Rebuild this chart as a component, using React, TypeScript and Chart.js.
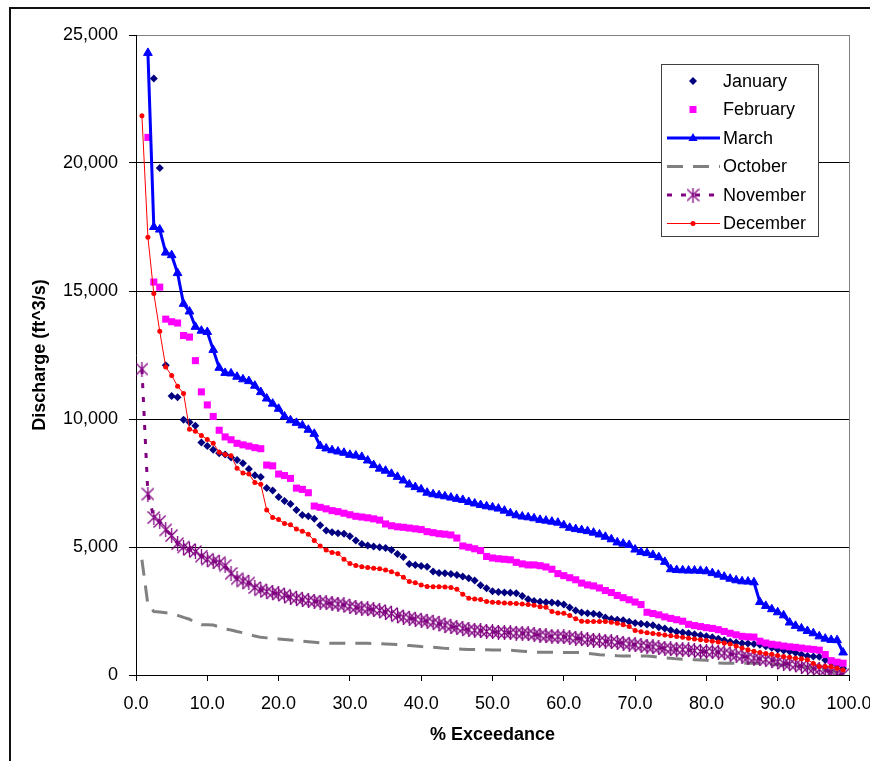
import React, { useEffect, useRef } from 'react';
import { Chart, registerables } from 'chart.js';

Chart.register(...registerables);

// % exceedance (plotting positions of the ranked flows)
const EXCEEDANCE = [
  0.83, 1.67, 2.5, 3.33, 4.17, 5, 5.83, 6.67, 7.5, 8.33,
  9.17, 10, 10.83, 11.67, 12.5, 13.33, 14.17, 15, 15.83, 16.67,
  17.5, 18.33, 19.17, 20, 20.83, 21.67, 22.5, 23.33, 24.17, 25,
  25.83, 26.67, 27.5, 28.33, 29.17, 30, 30.83, 31.67, 32.5, 33.33,
  34.17, 35, 35.83, 36.67, 37.5, 38.33, 39.17, 40, 40.83, 41.67,
  42.5, 43.33, 44.17, 45, 45.83, 46.67, 47.5, 48.33, 49.17, 50,
  50.83, 51.67, 52.5, 53.33, 54.17, 55, 55.83, 56.67, 57.5, 58.33,
  59.17, 60, 60.83, 61.67, 62.5, 63.33, 64.17, 65, 65.83, 66.67,
  67.5, 68.33, 69.17, 70, 70.83, 71.67, 72.5, 73.33, 74.17, 75,
  75.83, 76.67, 77.5, 78.33, 79.17, 80, 80.83, 81.67, 82.5, 83.33,
  84.17, 85, 85.83, 86.67, 87.5, 88.33, 89.17, 90, 90.83, 91.67,
  92.5, 93.33, 94.17, 95, 95.83, 96.67, 97.5, 98.33, 99.17,
];

const JANUARY = [
  null, null, 23300, 19800, 12100, 10900, 10850, 9970, 9870, 9740,
  9080, 8950, 8800, 8660, 8610, 8500, 8400, 8270, 8050, 7800,
  7730, 7300, 7210, 6950, 6800, 6680, 6450, 6250, 6200, 6100,
  5850, 5640, 5580, 5540, 5520, 5420, 5250, 5120, 5060, 5020,
  4990, 4960, 4880, 4730, 4610, 4340, 4300, 4260, 4230, 4040,
  3980, 3970, 3950, 3910, 3850, 3780, 3690, 3510, 3390, 3270,
  3240, 3220, 3210, 3190, 3090, 2960, 2890, 2860, 2840, 2830,
  2800, 2750, 2640, 2520, 2440, 2410, 2390, 2350, 2250, 2190,
  2160, 2140, 2080, 2030, 2000, 1970, 1940, 1870, 1820, 1750,
  1690, 1660, 1630, 1590, 1550, 1510, 1470, 1420, 1360, 1300,
  1270, 1240, 1230, 1210, 1180, 1120, 1060, 1000, 960, 920,
  870, 800, 740, 720, 710, 590, 480, 380, 260,
];

const FEBRUARY = [
  null, 21000, 15350, 15150, 13900, 13800, 13750, 13260, 13200, 12280,
  11060, 10550, 10100, 9560, 9300, 9190, 9050, 8990, 8940, 8880,
  8840, 8200, 8170, 7850, 7790, 7680, 7300, 7250, 7120, 6600,
  6550, 6490, 6420, 6380, 6320, 6260, 6200, 6170, 6140, 6100,
  6050, 5900, 5830, 5790, 5770, 5740, 5710, 5680, 5600, 5560,
  5520, 5500, 5470, 5350, 5040, 4990, 4930, 4860, 4630, 4570,
  4540, 4520, 4500, 4400, 4340, 4300, 4300, 4270, 4220, 4130,
  3960, 3880, 3800, 3720, 3590, 3520, 3480, 3400, 3300, 3220,
  3110, 3020, 2940, 2850, 2750, 2450, 2400, 2350, 2270, 2210,
  2160, 2100, 1980, 1930, 1890, 1850, 1820, 1770, 1700, 1630,
  1570, 1510, 1490, 1480, 1320, 1250, 1200, 1170, 1130, 1100,
  1080, 1050, 1020, 1000, 970, 800, 560, 500, 460,
];

const MARCH = [
  null, 24300, 17500, 17400, 16500, 16400, 15700, 14500, 14200, 13600,
  13450, 13400, 12700, 12000, 11800, 11780, 11650, 11550, 11480, 11300,
  11050, 10800, 10600, 10400, 10100, 9950, 9850, 9750, 9580, 9420,
  8950, 8850, 8780, 8730, 8680, 8600, 8570, 8520, 8380, 8200,
  8060, 7980, 7860, 7740, 7600, 7440, 7340, 7250, 7120, 7060,
  7020, 6980, 6930, 6880, 6840, 6760, 6700, 6640, 6590, 6550,
  6500, 6420, 6320, 6240, 6190, 6160, 6120, 6060, 6030, 5990,
  5950, 5850, 5750, 5700, 5660, 5620, 5560, 5490, 5400, 5300,
  5180, 5130, 5080, 4900, 4800, 4760, 4690, 4600, 4420, 4130,
  4100, 4090, 4080, 4080, 4070, 4050, 3980, 3920, 3840, 3760,
  3700, 3660, 3650, 3620, 2850, 2700, 2570, 2450, 2330, 2050,
  1920, 1820, 1720, 1630, 1510, 1420, 1370, 1360, 880,
];

const OCTOBER = [
  4500, 2750, 2480, 2460, 2430, 2400, 2330, 2250, 2180, 2050,
  1960, 1960, 1950, 1880, 1800, 1760, 1700, 1650, 1600, 1520,
  1470, 1450, 1420, 1410, 1390, 1370, 1350, 1320, 1300, 1280,
  1260, 1250, 1240, 1240, 1240, 1240, 1240, 1240, 1240, 1230,
  1220, 1210, 1200, 1190, 1170, 1150, 1130, 1110, 1100, 1080,
  1060, 1040, 1030, 1020, 1010, 1000, 1000, 990, 990, 980,
  980, 980, 970, 950, 930, 910, 890, 890, 890, 890,
  890, 880, 880, 880, 870, 850, 820, 790, 780, 770,
  750, 740, 740, 740, 740, 740, 720, 700, 670, 650,
  630, 620, 610, 600, 590, 580, 520, 470, 460, 460,
  460, 460, 460, 460, 450, 430, 410, 400, 390, 370,
  350, 330, 300, 270, 250, 200, 150, 100, 70,
];

const NOVEMBER = [
  11950, 7070, 6150, 6000, 5670, 5450, 5130, 5000, 4900, 4820,
  4640, 4520, 4450, 4390, 4270, 3960, 3760, 3670, 3600, 3420,
  3330, 3260, 3210, 3170, 3120, 3040, 3000, 2940, 2910, 2880,
  2850, 2820, 2790, 2770, 2740, 2680, 2640, 2610, 2580, 2550,
  2520, 2460, 2400, 2310, 2260, 2220, 2180, 2140, 2100, 2060,
  2000, 1950, 1890, 1860, 1820, 1770, 1750, 1730, 1700, 1690,
  1670, 1660, 1650, 1640, 1630, 1610, 1580, 1560, 1530, 1500,
  1500, 1490, 1470, 1440, 1410, 1380, 1360, 1340, 1320, 1300,
  1270, 1240, 1210, 1180, 1150, 1120, 1100, 1070, 1040, 1020,
  1000, 990, 980, 950, 920, 910, 910, 890, 860, 820,
  770, 730, 700, 660, 630, 610, 580, 520, 460, 430,
  400, 350, 290, 250, 220, 190, 120, 70, 20,
];

const DECEMBER = [
  21850, 17100, 14900, 13430, 12030, 11700, 11280, 11000, 9600, 9520,
  9360, 9200, 9050, 8700, 8610, 8560, 8080, 7890, 7850, 7520,
  7450, 6450, 6150, 6070, 5920, 5870, 5700, 5620, 5500, 5250,
  5040, 4880, 4790, 4750, 4520, 4360, 4280, 4230, 4200, 4170,
  4150, 4100, 4030, 3950, 3820, 3650, 3600, 3520, 3460, 3450,
  3450, 3440, 3420, 3350, 3150, 3000, 2970, 2950, 2870, 2840,
  2830, 2810, 2800, 2790, 2770, 2750, 2720, 2670, 2650, 2480,
  2420, 2410, 2320, 2200, 2100, 2090, 2090, 2090, 2090, 2060,
  2020, 1960, 1890, 1740, 1690, 1650, 1620, 1590, 1560, 1530,
  1500, 1470, 1440, 1410, 1380, 1350, 1320, 1290, 1250, 1210,
  1130, 1050, 990, 930, 880, 840, 810, 760, 720, 690,
  650, 630, 600, 450, 330, 330, 320, 260, 200,
];

const SERIES_NAMES = ['January', 'February', 'March', 'October', 'November', 'December'];
const X_TITLE = '% Exceedance';
const Y_TITLE = 'Discharge (ft^3/s)';

const FONT = '"Liberation Sans", Arial, Helvetica, sans-serif';
const NAVY = '#000080';
const MAGENTA = '#FF00FF';
const BLUE = '#0000FF';
const GRAY = '#808080';
const PURPLE = '#800080';
const RED = '#FF0000';
const OCT_DASH = [16, 10];
const NOV_DASH = [5, 9];

function makeAsterisk(color: string): HTMLCanvasElement {
  const c = document.createElement('canvas');
  c.width = 13;
  c.height = 15;
  const g = c.getContext('2d')!;
  g.strokeStyle = color;
  g.lineWidth = 1.3;
  g.beginPath();
  g.moveTo(0.5, 1.5);
  g.lineTo(12.5, 13.5);
  g.moveTo(12.5, 1.5);
  g.lineTo(0.5, 13.5);
  g.moveTo(6.5, 0);
  g.lineTo(6.5, 15);
  g.stroke();
  return c;
}

export default function App() {
  const ref = useRef<HTMLCanvasElement>(null);

  useEffect(() => {
    document.body.style.margin = '0';
    document.body.style.overflow = 'hidden';
    const canvas = ref.current!;
    const star = makeAsterisk(PURPLE);
    const pts = (arr: (number | null)[]) => EXCEEDANCE.map((x, i) => ({ x, y: arr[i] }));

    const framePlugin = {
      id: 'frame',
      beforeDraw(chart: any) {
        const ctx = chart.ctx;
        ctx.save();
        ctx.fillStyle = '#ffffff';
        ctx.fillRect(0, 0, chart.width, chart.height);
        ctx.fillStyle = '#111111';
        ctx.fillRect(9, 7, 2, chart.height);
        ctx.fillRect(9, 7, chart.width, 2);
        ctx.restore();
      },
      beforeDatasetsDraw(chart: any) {
        const { ctx, chartArea } = chart;
        ctx.save();
        ctx.strokeStyle = GRAY;
        ctx.lineWidth = 1;
        ctx.beginPath();
        ctx.moveTo(chartArea.right + 0.5, chartArea.top);
        ctx.lineTo(chartArea.right + 0.5, chartArea.bottom);
        ctx.stroke();
        ctx.restore();
      },
    };

    const legendPlugin = {
      id: 'boxLegend',
      afterDatasetsDraw(chart: any) {
        const ctx = chart.ctx as CanvasRenderingContext2D;
        const bx = 661, by = 64, bw = 157, bh = 172;
        ctx.save();
        ctx.fillStyle = '#ffffff';
        ctx.fillRect(bx, by, bw, bh);
        ctx.strokeStyle = '#404040';
        ctx.lineWidth = 1;
        ctx.strokeRect(bx + 0.5, by + 0.5, bw, bh);
        const sx0 = 667, sx1 = 720, cx = 693;
        const rowY = (i: number) => 81 + i * 28.5;
        // January
        let y = rowY(0);
        ctx.fillStyle = NAVY;
        ctx.beginPath();
        ctx.moveTo(cx - 4, y); ctx.lineTo(cx, y - 4); ctx.lineTo(cx + 4, y); ctx.lineTo(cx, y + 4);
        ctx.closePath(); ctx.fill();
        // February
        y = rowY(1);
        ctx.fillStyle = MAGENTA;
        ctx.fillRect(cx - 3.5, y - 3.5, 7, 7);
        // March
        y = rowY(2);
        ctx.strokeStyle = BLUE; ctx.lineWidth = 3; ctx.setLineDash([]);
        ctx.beginPath(); ctx.moveTo(sx0, y); ctx.lineTo(sx1, y); ctx.stroke();
        ctx.fillStyle = BLUE;
        ctx.beginPath();
        ctx.moveTo(cx, y - 5); ctx.lineTo(cx + 4.5, y + 3); ctx.lineTo(cx - 4.5, y + 3);
        ctx.closePath(); ctx.fill();
        // October
        y = rowY(3);
        ctx.strokeStyle = GRAY; ctx.lineWidth = 3; ctx.setLineDash(OCT_DASH);
        ctx.beginPath(); ctx.moveTo(sx0, y); ctx.lineTo(sx1, y); ctx.stroke();
        // November
        y = rowY(4);
        ctx.strokeStyle = PURPLE; ctx.lineWidth = 3; ctx.setLineDash(NOV_DASH);
        ctx.beginPath(); ctx.moveTo(sx0, y); ctx.lineTo(sx1, y); ctx.stroke();
        ctx.setLineDash([]);
        ctx.drawImage(star, cx - star.width / 2, y - star.height / 2);
        // December
        y = rowY(5);
        ctx.strokeStyle = RED; ctx.lineWidth = 1;
        ctx.beginPath(); ctx.moveTo(sx0, y); ctx.lineTo(sx1, y); ctx.stroke();
        ctx.fillStyle = RED;
        ctx.beginPath(); ctx.arc(cx, y, 2.5, 0, Math.PI * 2); ctx.fill();
        // labels
        ctx.fillStyle = '#000000';
        ctx.font = `18px ${FONT}`;
        ctx.textBaseline = 'middle';
        ctx.textAlign = 'left';
        SERIES_NAMES.forEach((name, i) => ctx.fillText(name, 723, rowY(i) + 1));
        ctx.restore();
      },
    };

    const chart = new Chart(canvas, {
      type: 'line',
      data: {
        datasets: [
          {
            label: SERIES_NAMES[5],
            data: pts(DECEMBER),
            borderColor: RED,
            borderWidth: 1,
            pointStyle: 'circle',
            pointRadius: 2.5,
            pointBackgroundColor: RED,
            pointBorderWidth: 0,
            tension: 0,
          },
          {
            label: SERIES_NAMES[4],
            data: pts(NOVEMBER),
            borderColor: PURPLE,
            borderWidth: 3,
            borderDash: NOV_DASH,
            pointStyle: star,
            pointRadius: 6,
            tension: 0,
          },
          {
            label: SERIES_NAMES[3],
            data: pts(OCTOBER),
            borderColor: GRAY,
            borderWidth: 3,
            borderDash: OCT_DASH,
            pointRadius: 0,
            tension: 0,
          },
          {
            label: SERIES_NAMES[2],
            data: pts(MARCH),
            borderColor: BLUE,
            borderWidth: 3,
            pointStyle: 'triangle',
            pointRadius: 5,
            pointBackgroundColor: BLUE,
            pointBorderColor: BLUE,
            pointBorderWidth: 1,
            tension: 0,
          },
          {
            label: SERIES_NAMES[1],
            data: pts(FEBRUARY),
            showLine: false,
            pointStyle: 'rect',
            pointRadius: 5,
            pointBackgroundColor: MAGENTA,
            pointBorderColor: MAGENTA,
            pointBorderWidth: 0,
          },
          {
            label: SERIES_NAMES[0],
            data: pts(JANUARY),
            showLine: false,
            pointStyle: 'rectRot',
            pointRadius: 4,
            pointBackgroundColor: NAVY,
            pointBorderColor: NAVY,
            pointBorderWidth: 0,
          },
        ],
      },
      options: {
        responsive: false,
        animation: false,
        devicePixelRatio: 1,
        layout: { autoPadding: false, padding: { top: 35, right: 21, bottom: 0, left: 0 } },
        plugins: { legend: { display: false }, tooltip: { enabled: false } },
        font: { family: FONT, size: 18 },
        scales: {
          x: {
            type: 'linear',
            min: 0,
            max: 100,
            afterFit: (s: any) => {
              s.height = 86;
              s.paddingLeft = 0;
              s.paddingRight = 0;
            },
            border: { display: true, color: '#000000', width: 1 },
            grid: { display: true, drawOnChartArea: false, drawTicks: true, tickLength: 6, tickColor: '#000000' },
            ticks: {
              stepSize: 10,
              autoSkip: false,
              maxRotation: 0,
              padding: 12,
              color: '#000000',
              font: { family: FONT, size: 18 },
              callback: (v: any) => Number(v).toFixed(1),
            },
            title: {
              display: true,
              text: X_TITLE,
              color: '#000000',
              font: { family: FONT, size: 18, weight: 'bold' },
              padding: { top: 0, bottom: 15 },
            },
          },
          y: {
            type: 'linear',
            min: 0,
            max: 25000,
            afterFit: (s: any) => {
              s.width = 136;
              s.paddingTop = 0;
              s.paddingBottom = 0;
            },
            border: { display: true, color: '#000000', width: 1 },
            grid: {
              display: true,
              drawOnChartArea: true,
              drawTicks: true,
              tickLength: 7,
              tickColor: '#000000',
              lineWidth: 1,
              color: (c: any) => (c.tick && c.tick.value === 25000 ? GRAY : '#000000'),
            },
            ticks: {
              stepSize: 5000,
              padding: 11,
              color: '#000000',
              font: { family: FONT, size: 18 },
              callback: (v: any) => Number(v).toLocaleString('en-US'),
            },
            title: {
              display: true,
              text: Y_TITLE,
              color: '#000000',
              font: { family: FONT, size: 18, weight: 'bold' },
              padding: { top: 29, bottom: 0 },
            },
          },
        },
      } as any,
      plugins: [framePlugin, legendPlugin],
    });

    return () => chart.destroy();
  }, []);

  return (
    <canvas
      ref={ref}
      width={870}
      height={761}
      style={{ display: 'block', width: '870px', height: '761px' }}
    />
  );
}
